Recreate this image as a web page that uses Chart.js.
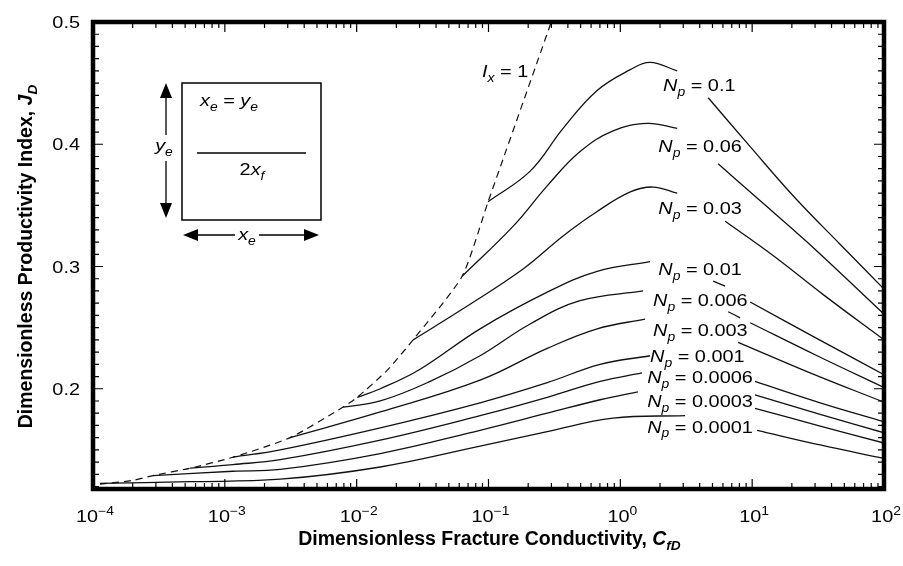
<!DOCTYPE html>
<html>
<head>
<meta charset="utf-8">
<script src="https://cdn.jsdelivr.net/npm/chart.js@4.4.1/dist/chart.umd.min.js"></script>
<style>
  html, body { margin: 0; padding: 0; background: #fff; }
</style>
</head>
<body>
<canvas id="myChart" width="903" height="566"></canvas>
<script>
// dashed limit curve, Ix = 1
const cfd_ix1 = [1.13e-4, 2e-4, 2.85e-4, 5.45e-4, 1.15e-3, 3.13e-3, 7.89e-3, 0.0101, 0.017, 0.0268, 0.0631, 0.0993, 0.304]
const jd_ix1 = [0.122, 0.125, 0.129, 0.135, 0.144, 0.160, 0.185, 0.193, 0.215, 0.240, 0.292, 0.353, 0.502]

// proppant number curves (null = break where the label sits)
const cfd_0_1 = [0.0993, 0.207, 0.368, 0.667, 1.19, 1.68, 2.70, 3.6, 4.64, 9.66, 21.2, 46.6, 100]
const jd_0_1 = [0.353, 0.378, 0.413, 0.444, 0.461, 0.467, 0.460, null, 0.438, 0.398, 0.356, 0.318, 0.2815]

const cfd_0_06 = [0.0631, 0.154, 0.279, 0.495, 0.881, 1.60, 2.70, 3.8, 5.52, 10.9, 26.1, 100]
const jd_0_06 = [0.292, 0.333, 0.366, 0.394, 0.411, 0.417, 0.413, null, 0.384, 0.356, 0.320, 0.261]

const cfd_0_03 = [0.0268, 0.0631, 0.183, 0.368, 0.667, 1.19, 1.77, 2.70, 4.0, 6.24, 14.4, 34.6, 100]
const jd_0_03 = [0.240, 0.265, 0.298, 0.325, 0.345, 0.361, 0.365, 0.360, null, 0.337, 0.309, 0.277, 0.240]

const cfd_0_01 = [0.0101, 0.0151, 0.0303, 0.0863, 0.279, 0.667, 1.68, 3.0, 5.06, 6.24, 7.5, 9.66, 31.1, 100]
const jd_0_01 = [0.193, 0.200, 0.216, 0.249, 0.279, 0.296, 0.304, null, 0.288, 0.284, null, 0.271, 0.241, 0.2115]

const cfd_0_006 = [7.89e-3, 0.0151, 0.0361, 0.0863, 0.207, 0.495, 1.49, 3.0, 6.58, 8.11, 8.8, 9.66, 31.1, 100]
const jd_0_006 = [0.185, 0.190, 0.206, 0.227, 0.253, 0.272, 0.280, null, 0.263, 0.258, null, 0.254, 0.227, 0.201]

const cfd_0_003 = [3.13e-3, 0.0151, 0.0863, 0.279, 0.667, 1.54, 4.0, 7.83, 27.5, 100]
const jd_0_003 = [0.160, 0.181, 0.207, 0.233, 0.249, 0.257, null, 0.238, 0.213, 0.189]

const cfd_0_001 = [1.15e-3, 2.63e-3, 0.0151, 0.0863, 0.279, 0.703, 1.68, 4.5, 10.5, 32.8, 100]
const jd_0_001 = [0.144, 0.150, 0.168, 0.1885, 0.205, 0.220, 0.227, null, 0.206, 0.1885, 0.173]

const cfd_0_0006 = [5.45e-4, 1.15e-3, 2.63e-3, 0.0151, 0.0863, 0.279, 0.703, 1.46, 4.5, 10.5, 32.8, 100]
const jd_0_0006 = [0.135, 0.138, 0.142, 0.158, 0.178, 0.193, 0.206, 0.213, null, 0.195, 0.179, 0.164]

const cfd_0_0003 = [2.85e-4, 1.15e-3, 2.63e-3, 0.0151, 0.0863, 0.279, 0.703, 1.36, 4.5, 10.5, 32.8, 100]
const jd_0_0003 = [0.129, 0.1325, 0.134, 0.147, 0.166, 0.180, 0.191, 0.1975, null, 0.184, 0.1695, 0.1556]

const cfd_0_0001 = [1.13e-4, 5.45e-4, 2.63e-3, 0.0151, 0.0863, 0.279, 0.881, 3.10, 6.0, 10.9, 32.8, 100]
const jd_0_0001 = [0.1226, 0.124, 0.126, 0.136, 0.153, 0.165, 0.176, 0.178, null, 0.166, 0.154, 0.143]

// curve labels
const npLabels = ["0.1", "0.06", "0.03", "0.01", "0.006", "0.003", "0.001", "0.0006", "0.0003", "0.0001"]
const npLabelCfd = [2.11, 1.94, 1.94, 1.94, 1.77, 1.77, 1.68, 1.60, 1.60, 1.60]
const npLabelJd = [0.449, 0.399, 0.348, 0.298, 0.273, 0.2486, 0.2272, 0.210, 0.190, 0.1695]

// axes
const xDecades = [-4, -3, -2, -1, 0, 1, 2]
const yTickLabels = ["0.2", "0.3", "0.4", "0.5"]
const yMin = 0.118
const yMax = 0.5

const STRETCH = 1.17
const FONT = '"Liberation Sans", Arial, Helvetica, sans-serif'

function pts(xs, ys) {
  return xs.map((x, i) => ({ x: x, y: ys[i] }))
}

function fontFor(p, size, bold) {
  let s = (p.sub || p.sup) ? size * 0.7 : size
  return (p.it ? 'italic ' : '') + (bold ? 'bold ' : '') + s + 'px ' + FONT
}

// draw mixed italic / subscript text, y is the baseline
function drawRich(ctx, parts, x, y, size, opts) {
  opts = opts || {}
  const k = opts.stretch || 1
  let widths = parts.map(p => {
    ctx.font = fontFor(p, size, opts.bold)
    return ctx.measureText(p.t).width * k
  })
  let total = widths.reduce((a, b) => a + b, 0)
  let cx = x
  if (opts.align === 'center') cx = x - total / 2
  if (opts.align === 'right') cx = x - total
  ctx.textAlign = 'left'
  ctx.textBaseline = 'alphabetic'
  parts.forEach((p, i) => {
    ctx.font = fontFor(p, size, opts.bold)
    let dy = p.sub ? size * 0.28 : (p.sup ? -size * 0.42 : 0)
    ctx.save()
    ctx.translate(cx, y + dy)
    ctx.scale(k, 1)
    ctx.fillText(p.t, 0, 0)
    ctx.restore()
    cx += widths[i]
  })
}

function arrowHead(ctx, x, y, dx, dy) {
  // tip at x,y pointing along dx,dy
  const len = 15, half = 6
  ctx.beginPath()
  ctx.moveTo(x, y)
  ctx.lineTo(x - dx * len - dy * half, y - dy * len + dx * half)
  ctx.lineTo(x - dx * len + dy * half, y - dy * len - dx * half)
  ctx.closePath()
  ctx.fill()
}

const decorations = {
  id: 'decorations',
  afterDraw(chart) {
    const ctx = chart.ctx
    const a = chart.chartArea
    const xs = chart.scales.x
    const ys = chart.scales.y
    ctx.save()
    ctx.fillStyle = '#000'
    ctx.strokeStyle = '#000'

    // inward ticks
    ctx.lineWidth = 1.2
    ctx.beginPath()
    for (let d = -4; d < 2; d++) {
      for (let m = 1; m <= 9; m++) {
        let px = xs.getPixelForValue(m * Math.pow(10, d))
        let len = m === 1 ? 10 : 6
        ctx.moveTo(px, a.bottom); ctx.lineTo(px, a.bottom - len)
        ctx.moveTo(px, a.top); ctx.lineTo(px, a.top + len)
      }
    }
    for (let i = 0; i <= 50; i++) {
      let v = Math.round((0.12 + i * 0.01) * 100) / 100
      if (v > yMax) break
      let py = ys.getPixelForValue(v)
      let len = (Math.round(v * 100) % 10 === 0) ? 10 : 6
      ctx.moveTo(a.left, py); ctx.lineTo(a.left + len, py)
      ctx.moveTo(a.right, py); ctx.lineTo(a.right - len, py)
    }
    ctx.stroke()

    // frame
    ctx.lineWidth = 4.5
    ctx.strokeRect(a.left, a.top, a.right - a.left, a.bottom - a.top)

    // x tick labels
    xDecades.forEach(e => {
      let px = xs.getPixelForValue(Math.pow(10, e))
      let expo = e < 0 ? '\u2212' + (-e) : String(e)
      drawRich(ctx, [{ t: '10' }, { t: expo, sup: true }], px + 2, a.bottom + 33, 17, { align: 'center', stretch: STRETCH })
    })
    // y tick labels
    yTickLabels.forEach(t => {
      let py = ys.getPixelForValue(parseFloat(t))
      drawRich(ctx, [{ t: t }], a.left - 13, py + 6, 17, { align: 'right', stretch: STRETCH })
    })

    // axis titles
    drawRich(ctx, [
      { t: 'Dimensionless Fracture Conductivity, ' },
      { t: 'C', it: true },
      { t: 'fD', it: true, sub: true }
    ], (a.left + a.right) / 2 + 1, a.bottom + 56, 19.5, { align: 'center', bold: true })

    ctx.save()
    ctx.translate(32, (a.top + a.bottom) / 2 + 1)
    ctx.rotate(-Math.PI / 2)
    drawRich(ctx, [
      { t: 'Dimensionless Productivity Index, ' },
      { t: 'J', it: true },
      { t: 'D', it: true, sub: true }
    ], 0, 0, 19.5, { align: 'center', bold: true })
    ctx.restore()

    // curve labels
    npLabels.forEach((t, i) => {
      let px = xs.getPixelForValue(npLabelCfd[i])
      let py = ys.getPixelForValue(npLabelJd[i])
      drawRich(ctx, [{ t: 'N', it: true }, { t: 'p', it: true, sub: true }, { t: ' = ' + t }], px, py + 6.5, 17, { stretch: STRETCH })
    })
    drawRich(ctx, [{ t: 'I', it: true }, { t: 'x', it: true, sub: true }, { t: ' = 1' }],
      xs.getPixelForValue(0.0893), ys.getPixelForValue(0.460) + 6.5, 17, { stretch: STRETCH })

    // inset sketch of the drainage area
    const L = a.left, T = a.top
    ctx.lineWidth = 1.5
    ctx.strokeRect(L + 89, T + 61, 139, 137)
    ctx.beginPath()
    ctx.moveTo(L + 104, T + 131); ctx.lineTo(L + 213, T + 131)
    ctx.stroke()
    drawRich(ctx, [{ t: 'x', it: true }, { t: 'e', it: true, sub: true }, { t: ' = ' }, { t: 'y', it: true }, { t: 'e', it: true, sub: true }],
      L + 107, T + 84, 17, { stretch: STRETCH })
    drawRich(ctx, [{ t: '2' }, { t: 'x', it: true }, { t: 'f', it: true, sub: true }], L + 159, T + 153, 17, { align: 'center', stretch: STRETCH })

    // vertical arrow (ye)
    ctx.lineWidth = 1.3
    ctx.beginPath()
    ctx.moveTo(L + 73, T + 70); ctx.lineTo(L + 73, T + 113)
    ctx.moveTo(L + 73, T + 139); ctx.lineTo(L + 73, T + 188)
    ctx.stroke()
    arrowHead(ctx, L + 73, T + 61, 0, -1)
    arrowHead(ctx, L + 73, T + 196, 0, 1)
    drawRich(ctx, [{ t: 'y', it: true }, { t: 'e', it: true, sub: true }], L + 71, T + 129, 17, { align: 'center', stretch: STRETCH })

    // horizontal arrow (xe)
    ctx.beginPath()
    ctx.moveTo(L + 98, T + 213); ctx.lineTo(L + 142, T + 213)
    ctx.moveTo(L + 166, T + 213); ctx.lineTo(L + 218, T + 213)
    ctx.stroke()
    arrowHead(ctx, L + 90, T + 213, -1, 0)
    arrowHead(ctx, L + 226, T + 213, 1, 0)
    drawRich(ctx, [{ t: 'x', it: true }, { t: 'e', it: true, sub: true }], L + 154, T + 218, 17, { align: 'center', stretch: STRETCH })

    ctx.restore()
  }
}

function curve(xs, ys, dashed) {
  return {
    data: pts(xs, ys),
    showLine: true,
    borderColor: '#111',
    borderWidth: dashed ? 1.2 : 1.3,
    borderDash: dashed ? [7, 5] : [],
    pointRadius: 0,
    tension: dashed ? 0.2 : 0.4,
    spanGaps: false,
    fill: false
  }
}

function drawChart() {
  const ctx = document.getElementById('myChart')
  new Chart(ctx, {
    type: 'scatter',
    data: {
      datasets: [
        curve(cfd_ix1, jd_ix1, true),
        curve(cfd_0_1, jd_0_1),
        curve(cfd_0_06, jd_0_06),
        curve(cfd_0_03, jd_0_03),
        curve(cfd_0_01, jd_0_01),
        curve(cfd_0_006, jd_0_006),
        curve(cfd_0_003, jd_0_003),
        curve(cfd_0_001, jd_0_001),
        curve(cfd_0_0006, jd_0_0006),
        curve(cfd_0_0003, jd_0_0003),
        curve(cfd_0_0001, jd_0_0001)
      ]
    },
    options: {
      responsive: false,
      animation: false,
      devicePixelRatio: 1,
      layout: { padding: { left: 93, right: 19, top: 22, bottom: 77 } },
      plugins: { legend: { display: false }, tooltip: { enabled: false } },
      scales: {
        x: { type: 'logarithmic', min: 1e-4, max: 100, display: false },
        y: { type: 'linear', min: yMin, max: yMax, display: false }
      }
    },
    plugins: [decorations]
  })
}

document.addEventListener('DOMContentLoaded', drawChart)
</script>
</body>
</html>
